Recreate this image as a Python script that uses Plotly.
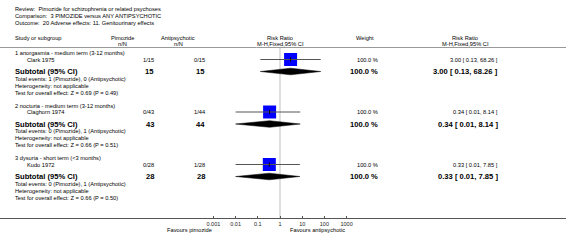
import plotly.graph_objects as go
import math

W, H = 566, 249

# ---------------- data ----------------
review = "Review:  Pimozide for schizophrenia or related psychoses"
comparison = "Comparison:  3 PIMOZIDE versus ANY ANTIPSYCHOTIC"
outcome = "Outcome:  20 Adverse effects: 11. Genitourinary effects"

groups = ["1 anorgasmia - medium term (3-12 months)",
          "2 nocturia - medium term (3-12 months)",
          "3 dysuria - short term (<3 months)"]
studies = ["Clark 1975", "Claghorn 1974", "Kudo 1972"]
pim_events = [1, 0, 0]
pim_total = [15, 43, 28]
anti_events = [0, 1, 1]
anti_total = [15, 44, 28]
rr = [3.00, 0.34, 0.33]
rr_lo = [0.13, 0.01, 0.01]
rr_hi = [68.26, 8.14, 7.85]
weights = [100.0, 100.0, 100.0]
z_vals = [0.69, 0.66, 0.66]
p_vals = [0.49, 0.51, 0.50]
tick_vals = [0.001, 0.01, 0.1, 1, 10, 100, 1000]
tick_text = ["0.001", "0.01", "0.1", "1", "10", "100", "1000"]
fav_left = "Favours pimozide"
fav_right = "Favours antipsychotic"

# ---------------- layout helpers ----------------
FONT = "Liberation Sans, Arial, sans-serif"
FS = 5.7      # regular font size
FSB = 7.6     # bold subtotal size
AX_Y = 218    # pixel y of bottom axis line
PX_PER_DEC = 22.2
X_ONE = 280.0

def px(x):
    return x / W

def py(y):
    return 1 - y / H

annotations = []

def txt(x, y, s, anchor="left", size=FS, bold=False, yref="y", color="#000"):
    if bold:
        s = "<b>" + s + "</b>"
    annotations.append(dict(
        x=px(x), y=(y if yref == "y" else py(y)), xref="paper", yref=yref,
        text=s, showarrow=False, xanchor=anchor, yanchor="middle",
        font=dict(family=FONT, size=size, color=color)))

fig = go.Figure()

# header texts
txt(13, 9, review, yref="paper")
txt(13, 16, comparison, yref="paper")
txt(13, 22.5, outcome, yref="paper")

txt(13, 38, "Study or subgroup")
txt(122, 38, "Pimozide", anchor="center")
txt(122, 43.5, "n/N", anchor="center")
txt(178, 38, "Antipsychotic", anchor="center")
txt(178, 43.5, "n/N", anchor="center")
txt(280, 38, "Risk Ratio", anchor="center")
txt(280, 43.5, "M-H,Fixed,95% CI", anchor="center")
txt(354, 38, "Weight", anchor="left")
txt(465, 38, "Risk Ratio", anchor="center")
txt(465, 43.5, "M-H,Fixed,95% CI", anchor="center")

X_PIM, X_ANTI, X_W, X_RR = 156, 207, 380, 500

study_y = []
sub_y = []
y = 53.0
for i in range(len(groups)):
    gy = y
    sy = gy + 6.5
    suby = sy + 12
    ty = suby + 7
    hy = ty + 7
    tey = hy + 7
    study_y.append(sy)
    sub_y.append(suby)
    txt(13, gy, groups[i])
    txt(25, sy, studies[i])
    txt(X_PIM, sy, f"{pim_events[i]}/{pim_total[i]}", anchor="right")
    txt(X_ANTI, sy, f"{anti_events[i]}/{anti_total[i]}", anchor="right")
    txt(X_W, sy, f"{weights[i]:.1f} %", anchor="right")
    txt(X_RR, sy, f"{rr[i]:.2f} [ {rr_lo[i]:.2f}, {rr_hi[i]:.2f} ]", anchor="right")
    txt(13, suby, "Subtotal (95% CI)", size=FSB, bold=True)
    txt(X_PIM, suby, f"{pim_total[i]}", anchor="right", size=FSB, bold=True)
    txt(X_ANTI, suby, f"{anti_total[i]}", anchor="right", size=FSB, bold=True)
    txt(X_W, suby, f"{weights[i]:.1f} %", anchor="right", size=FSB, bold=True)
    txt(X_RR, suby, f"{rr[i]:.2f} [ {rr_lo[i]:.2f}, {rr_hi[i]:.2f} ]",
        anchor="right", size=FSB, bold=True)
    txt(13, ty, f"Total events: {pim_events[i]} (Pimozide), {anti_events[i]} (Antipsychotic)")
    txt(13, hy, "Heterogeneity: not applicable")
    txt(13, tey, f"Test for overall effect: Z = {z_vals[i]:.2f} (P = {p_vals[i]:.2f})")
    y = tey + 13

# Favours labels
txt(189, 230, fav_left, anchor="center", yref="paper")
txt(317, 230, fav_right, anchor="center", yref="paper")

# ---------------- forest plot marks ----------------
# vertical line of no effect
fig.add_trace(go.Scatter(x=[1, 1], y=[48, AX_Y], mode="lines",
                         line=dict(color="#d4d4d4", width=1.5),
                         hoverinfo="skip", showlegend=False))

for i in range(len(studies)):
    # diamond for subtotal
    yc = sub_y[i]
    hh = 3.3
    fig.add_trace(go.Scatter(
        x=[rr_lo[i], rr[i], rr_hi[i], rr[i], rr_lo[i]],
        y=[yc, yc - hh, yc, yc + hh, yc],
        mode="lines", fill="toself", fillcolor="#000",
        line=dict(color="#000", width=0.5),
        hoverinfo="skip", showlegend=False))
    # square
    fig.add_trace(go.Scatter(x=[rr[i]], y=[study_y[i]], mode="markers",
                             marker=dict(symbol="square", size=13, color="#0000ff",
                                         line=dict(width=0)),
                             hoverinfo="skip", showlegend=False))
    # CI line
    fig.add_trace(go.Scatter(x=[rr_lo[i], rr_hi[i]], y=[study_y[i], study_y[i]],
                             mode="lines", line=dict(color="#555", width=1),
                             hoverinfo="skip", showlegend=False))
    fig.add_trace(go.Scatter(x=[rr[i]], y=[study_y[i]], mode="markers",
                             marker=dict(symbol="line-ns", size=3,
                                         line=dict(color="#000", width=1)),
                             hoverinfo="skip", showlegend=False))

# header rule
fig.add_shape(type="line", xref="paper", yref="y", x0=0, x1=1, y0=47.5, y1=47.5,
              line=dict(color="#999", width=1))

left_dec = -X_ONE / PX_PER_DEC
right_dec = (W - X_ONE) / PX_PER_DEC

fig.update_layout(
    width=W, height=H,
    margin=dict(l=0, r=0, t=0, b=0),
    paper_bgcolor="white", plot_bgcolor="white",
    annotations=annotations,
    showlegend=False,
    xaxis=dict(type="log", range=[left_dec, right_dec], domain=[0, 1],
               tickvals=tick_vals, ticktext=tick_text,
               ticks="inside", ticklen=2, tickcolor="#555", tickwidth=1,
               showline=True, linecolor="#555", linewidth=1,
               showgrid=False, zeroline=False,
               tickfont=dict(family=FONT, size=5.5, color="#222"),
               fixedrange=True),
    yaxis=dict(range=[AX_Y, 0], domain=[1 - AX_Y / H, 1],
               showticklabels=False, showgrid=False, zeroline=False,
               showline=False, ticks="", fixedrange=True),
)

fig.write_html("out.html", config={"displayModeBar": False},
               post_script="document.body.style.margin='0';"
                           "document.body.style.padding='0';"
                           "document.body.style.overflow='hidden';")
